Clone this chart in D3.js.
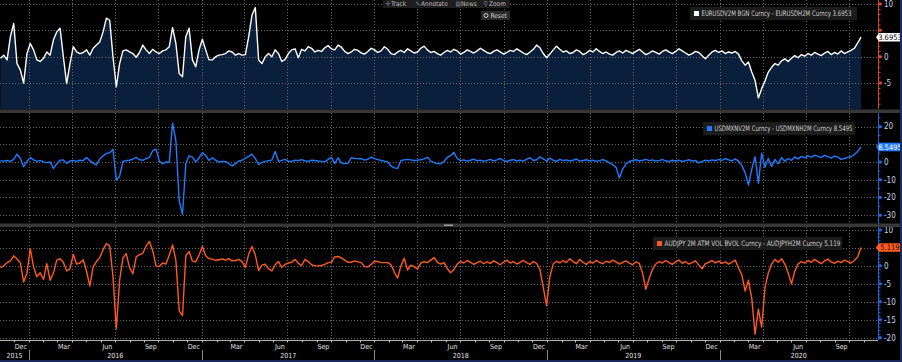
<!DOCTYPE html>
<html>
<head>
<meta charset="utf-8">
<script src="https://cdn.jsdelivr.net/npm/d3@7"></script>
<style>
    html, body { margin: 0; padding: 0; background: #000; }
    svg { display: block; font-family: "Liberation Sans Narrow", "DejaVu Sans Condensed", "Roboto Condensed", sans-serif; }
</style>
</head>
<body>
<svg id="chart" width="902" height="362"></svg>
<script>
// weekly observations, first one on 2 Nov 2015
const startDate = new Date(2015, 10, 2);

const eurusdValues = [
    -0.3, 0.3, -0.6, 3.8, 6.3, -1.3, -2.5, -5.0, 0.6, 2.5,
    1.3, -0.6, -0.9, -0.3, 0.9, 0.3, 3.2, 4.7, 5.4, 0.0,
    -5.1, -1.3, 1.9, 0.9, 0.6, 0.8, 1.3, 0.3, 1.6, 2.2,
    2.8, 4.7, 7.3, 6.9, 0.0, -5.7, -1.3, 1.1, 1.3, 0.9,
    0.6, -0.1, 0.8, 2.2, 1.3, 0.6, 1.4, 0.9, 0.6, 1.1,
    1.3, 1.9, 5.5, 2.5, -3.2, -3.8, 3.8, 5.4, -0.6, -1.9,
    1.3, 3.3, 1.3, -0.6, -0.6, 0.0, 0.3, 0.4, 0.6, 1.1,
    0.9, 0.3, 0.6, 0.3, 0.4, 3.8, 7.9, 9.3, -0.6, -1.3,
    0.0, 0.6, 0.0, 1.3, 0.6, -0.9, -0.5, 0.6, 1.3, 1.5,
    -0.2, 1.4, 1.1, 1.9, 1.6, 0.9, 1.2, 1.0, 1.7, 2.1,
    1.5, 1.3, 2.2, 1.8, 1.0, 0.6, 0.9, 1.4, 1.2, 0.7,
    0.5, 1.0, 1.6, 1.3, 0.8, 1.1, 1.9, 1.4, 0.6, 0.4,
    0.9, 1.2, 0.8, 1.5, 1.1, 0.7, 0.9, 1.6, 2.0, 1.3,
    0.8, 1.0, 0.6, 0.3, 0.8, 1.2, 0.9, 1.4, 1.1, 0.5,
    0.8, 1.3, 1.0, 0.7, 1.1, 1.6, 1.2, 0.8, 0.6, 1.0,
    1.3, 0.9, 0.5, 0.8, 1.2, 1.0, 1.5, 1.1, 0.7, 0.4,
    0.9, 1.4, 2.2, 1.7, 0.6, -0.2, 0.5, 1.3, 2.0, 1.4,
    0.9, 1.1, 0.6, 0.8, 1.3, 1.0, 0.4, 0.7, 1.2, 0.9,
    1.5, 1.0, 0.6, 0.9, 0.5, 0.3, 0.8, 1.1, 0.7, 1.2,
    0.9, 0.6, 1.0, 1.4, 0.9, 0.4, 0.7, 1.1, 0.8, 0.5,
    1.0, 1.3, 0.9, 0.6, 1.0, 1.5, 1.1, 0.7, 0.3, 0.6,
    1.0, 0.8, 0.2, -0.4, 0.3, 0.9, 1.2, 0.8, 1.1, 0.6,
    0.9, 0.7, 1.0, 0.5, -0.8, -1.6, -1.0, -2.9, -4.5, -7.8,
    -6.0, -4.6, -2.9, -2.0, -1.3, -1.6, -0.8, -0.4, -0.9, -0.3,
    0.2, -0.2, 0.4, 0.1, 0.6, 0.3, 0.8, 0.5, 0.2, 0.7,
    1.0, 0.4, 0.8, 0.5, 1.1, 0.6, 0.9, 1.2, 1.6, 2.6,
    3.7
];

const usdmxnValues = [
    0.7, 0.5, 0.9, 0.4, 1.5, 4.5, 2.0, -2.6, 0.5, 2.5,
    1.2, 0.4, 0.9, 0.1, -0.3, 0.0, -3.6, -1.0, 1.0, 1.2,
    -0.8, 0.6, 0.9, 0.4, 1.0, 0.8, 2.6, 0.8, -0.6, -1.6,
    1.7, 3.5, 4.8, 5.3, 7.2, -10.2, -8.0, 0.3, 0.9, 1.0,
    1.6, 2.7, 1.3, 1.0, 1.9, 2.6, 6.4, 7.3, 0.6, -1.0,
    0.0, -0.2, 22.0, 12.0, -22.0, -29.5, -1.0, 3.5, 2.8, 0.1,
    2.3, 5.3, 3.7, 0.9, 2.4, 1.1, 0.0, 0.4, 0.2, -0.8,
    -2.2, -0.9, 0.6, 1.0, 2.2, 3.2, 4.5, 1.9, -1.4, -0.2,
    0.4, 0.8, 1.1, 6.0, 0.4, 0.9, 1.5, 0.4, 0.4, 1.0,
    0.8, 1.4, 0.6, 0.4, 1.0, 0.9, 0.6, 0.4, 0.1, 1.5,
    2.6, -0.9, 2.4, -0.5, -0.9, -0.7, 2.5, 2.0, 1.9, 1.9,
    1.1, 1.6, 2.7, 1.9, 1.4, 0.9, 0.5, 0.0, -2.2, -3.3,
    -3.6, 0.9, 1.2, 1.5, 1.2, 0.9, 1.1, 1.3, 1.8, 2.7,
    0.5, -0.3, -0.9, -1.0, 0.3, 2.6, 3.6,
    5.5, 2.0, 0.8, 1.2, 0.5, 1.0, 1.6, 0.7, 1.1, 0.4,
    0.9, 1.5, 0.6, 1.2, 2.0, 0.8, 0.3, 1.0, 1.4, 0.6,
    1.1, 0.5, 1.6, 2.4, 0.9, 1.3, 3.0, 1.8, 0.6, 2.2,
    1.0, 0.4, 1.5, 0.8, 1.2, 0.6, 1.0, 1.7, 0.5, 0.9,
    1.3, 0.7, 1.1, 0.4, 0.8, 1.4, 0.6, -0.5, -1.5, -3.0,
    -9.0, -4.0, -1.0, 0.3, 0.9, 1.3, 0.6, 1.0, 1.5, 0.8,
    1.2, 0.5, 0.9, 1.4, 0.7, 0.2, 1.0, 0.6, 1.1, 0.3,
    0.8, 1.3, 0.5, 0.9, -0.5, 0.4, 1.0, 0.6, 1.2, 0.7,
    1.5, 0.9, 2.0, 1.2, 0.6, 1.8, 0.5, -2.0, -6.0, -13.0,
    -4.0, 3.0, -12.0, 5.0, -3.0, 2.0, -2.5, 1.5, -1.0, 2.5,
    0.5, 2.0, 1.0, 2.8, 1.8, 3.2, 2.4, 3.5, 2.8, 3.9,
    3.2, 2.6, 3.8, 3.0, 2.2, 3.4, 2.8, 1.5, 2.0, 2.6,
    3.0, 4.2, 6.0, 8.5
];

const audjpyValues = [
    -0.5, 0.0, 0.9, 1.4, 2.8, 1.9, 0.9, -4.5, -2.0, 4.8,
    -0.3, -3.0, -1.9, -3.8, 0.6, -4.0, -2.0, 1.6, 2.0, 1.0,
    -1.4, -0.8, 3.2, 0.5, 0.8, 1.7, -1.5, -5.6, -0.3, 1.2,
    2.3, 4.5, 6.2, 5.6, -3.0, -17.5, -4.0, 2.2, 3.4, -0.5,
    -2.2, 2.5, 3.1, 3.5, 5.5, 6.8, 4.2, 0.0, -0.2, 0.8,
    0.5, 3.0, 5.8, 1.5, -12.5, -13.8, 2.9, 4.0, 1.3, 1.1,
    3.0, 5.4, 2.8, 2.0, 1.9, 1.5, 1.7, 1.9, 1.6, 2.0,
    1.4, 1.5, 1.8, 1.2, -0.4, 3.3, 5.4, 3.0, -1.3, 0.2,
    0.5, -0.8, -1.4, 0.3, 1.2, -0.4, 0.4, 0.8, 1.0, 1.8,
    0.7, 0.1, 1.8, 1.2, 0.3, 0.0, 0.0, 0.1, 0.4, 0.9,
    1.0, 2.5, 2.6, 2.2, 1.6, 1.0, 1.0, 1.4, 1.1, 0.9,
    -0.2, -0.3, 0.4, 1.3, 1.2, 0.9, 0.9, 0.9, 0.3, -1.8,
    -3.4, 0.0, 2.1, -1.2, 0.2, -0.2, -0.9, 0.8, 1.2, 0.9,
    1.6, 2.3, 1.0, 0.5, 0.9, -0.8, -1.9,
    -1.0, 0.5, 1.2, 0.8, 1.5, 1.0, 0.4, 0.9, 1.3, 0.6,
    1.1, 0.7, 1.4, 0.9, 0.3, 1.0, 1.6, 0.8, 1.2, 0.5,
    1.0, 1.5, 0.9, 0.4, 1.2, 0.7, -1.0, -6.0, -11.0, -3.0,
    0.5, 1.3, 0.8, 1.5, 0.9, 2.0, 1.2, 0.6, 1.8, 1.0,
    0.4, 1.2, 0.8, 1.5, 1.0, 0.6, 1.3, 0.9, 1.6, 1.1,
    0.5, 1.0, 1.4, 0.8, 0.3, 1.1, 0.7, -2.0, -6.5, -3.5,
    -1.0, 0.5, 1.2, 0.8, 1.5, 0.9, 0.4, 1.1, 1.6, 0.7,
    1.2, 0.5, 0.9, 1.4, 0.2, -0.8, 0.6, 1.0, 1.5, 0.8,
    1.3, 0.7, 1.1, 0.5, 1.0, 1.6, -0.5, -2.5, -7.0, -4.0,
    -9.0, -19.0, -12.0, -17.0, -6.0, -2.0, 0.5, 1.8, 1.0, 2.0,
    0.5, -2.0, -5.0, -1.5, 0.5, 1.2, 0.8, 1.5, 1.0, 1.8,
    1.2, 0.6, 1.4, 1.9, 1.1, 0.7, 1.3, 0.9, 1.6, 1.2,
    0.8, 1.5, 2.5, 5.1
];

const eurusdTicks = [10, 5, 0, -5];
const usdmxnTicks = [20, 10, 0, -10, -20, -30];
const audjpyTicks = [10, 5, 0, -5, -10, -15, -20];

const legendNames = [
    "EURUSDV2M BGN Curncy - EURUSDH2M Curncy 3.6953",
    "USDMXNV2M Curncy - USDMXNH2M Curncy 8.5495",
    "AUDJPY 2M ATM VOL BVOL Curncy - AUDJPYH2M Curncy 5.119"
];
const lastLabels = ["3.6953", "8.5495", "5.119"];
const monthNames = ["Dec", "Mar", "Jun", "Sep"];
const toolbarItems = ["Track", "Annotate", "News", "Zoom"];

const width = 902;
const height = 362;
const plotRight = 878;
const gridColor = "#6a6a6a";
const labelColor = "#c9d3e6";

const svg = d3.select("#chart");
svg.append("rect").attr("width", width).attr("height", height).attr("fill", "#000");

const x = d3.scaleTime()
    .domain([new Date(2015, 10, 1), new Date(2020, 11, 1)])
    .range([0, plotRight]);

function toSeries(values) {
    return values.map((v, i) => ({date: d3.timeWeek.offset(startDate, i), value: v}));
}

const panels = [
    {values: eurusdValues, ticks: eurusdTicks, minorStep: 1, domain: [-9.9, 10.74], top: 0, bottom: 109,
     line: "#ffffff", axis: "#d9481f", area: "#0a1f3c",
     legend: {x: 690, y: 7, w: 167, h: 13, tl: 150}, tag: {fill: "#ffffff", text: "#000"}},
    {values: usdmxnValues, ticks: usdmxnTicks, minorStep: 5, domain: [-35.0, 27.7], top: 113, bottom: 224,
     line: "#1f7bff", axis: "#1e66dc", area: null,
     legend: {x: 703, y: 122, w: 152, h: 13, tl: 138}, tag: {fill: "#1f7bff", text: "#ffffff"}},
    {values: audjpyValues, ticks: audjpyTicks, minorStep: 1, domain: [-20.6, 10.8], top: 227, bottom: 340,
     line: "#ff5b1f", axis: "#1e66dc", area: null,
     legend: {x: 653, y: 237, w: 189, h: 13, tl: 176}, tag: {fill: "#ff5b1f", text: "#1a0a00"}}
];

const quarterStarts = d3.timeMonth.every(3).range(new Date(2016, 0, 1), x.domain()[1]);

panels.forEach((p, idx) => {
    const y = d3.scaleLinear().domain(p.domain).range([p.bottom, p.top]);
    const data = toSeries(p.values);
    const g = svg.append("g");
    const ty = y(+lastLabels[idx]);

    if (p.area) {
        const area = d3.area()
            .x(d => x(d.date))
            .y0(p.bottom)
            .y1(d => y(d.value));
        g.append("path").datum(data).attr("d", area).attr("fill", p.area);
    }

    // dotted grid
    g.selectAll(".hgrid")
        .data(p.ticks)
        .join("line")
        .attr("x1", 0).attr("x2", plotRight)
        .attr("y1", d => Math.round(y(d)) + 0.5).attr("y2", d => Math.round(y(d)) + 0.5)
        .attr("stroke", gridColor).attr("stroke-dasharray", "1,2");

    g.selectAll(".vgrid")
        .data(quarterStarts)
        .join("line")
        .attr("x1", d => Math.round(x(d)) + 0.5).attr("x2", d => Math.round(x(d)) + 0.5)
        .attr("y1", p.top).attr("y2", p.bottom)
        .attr("stroke", gridColor).attr("stroke-dasharray", "1,2");

    const line = d3.line()
        .x(d => x(d.date))
        .y(d => y(d.value));
    g.append("path").datum(data)
        .attr("d", line)
        .attr("fill", "none")
        .attr("stroke", p.line)
        .attr("stroke-width", 1.4)
        .attr("stroke-linejoin", "round");

    // right axis
    g.append("line")
        .attr("x1", plotRight + 0.5).attr("x2", plotRight + 0.5)
        .attr("y1", p.top).attr("y2", p.bottom)
        .attr("stroke", p.axis).attr("stroke-width", 1);

    const minor = d3.range(Math.ceil(p.domain[0] / p.minorStep) * p.minorStep, p.domain[1], p.minorStep);
    g.selectAll(".minor")
        .data(minor)
        .join("line")
        .attr("x1", plotRight).attr("x2", plotRight + 2.5)
        .attr("y1", d => y(d)).attr("y2", d => y(d))
        .attr("stroke", p.axis);

    g.selectAll(".major")
        .data(p.ticks)
        .join("path")
        .attr("d", d => `M${plotRight},${y(d) - 1.5}h3l1.5,1.5l-1.5,1.5h-3z`)
        .attr("fill", p.axis);

    // labels hidden behind the last-value tag are not drawn
    g.selectAll(".tlabel")
        .data(p.ticks.filter(d => Math.abs(y(d) - ty) > 8))
        .join("text")
        .attr("x", plotRight + 6)
        .attr("y", d => y(d))
        .attr("dy", "0.35em")
        .attr("font-size", 8)
        .attr("fill", labelColor)
        .text(d => d);

    // legend box
    const lg = g.append("g");
    lg.append("rect")
        .attr("x", p.legend.x).attr("y", p.legend.y)
        .attr("width", p.legend.w).attr("height", p.legend.h)
        .attr("fill", "#1c1c1c");
    lg.append("rect")
        .attr("x", p.legend.x + 4).attr("y", p.legend.y + 4)
        .attr("width", 5).attr("height", 5)
        .attr("fill", p.line);
    lg.append("text")
        .attr("x", p.legend.x + 11.5)
        .attr("y", p.legend.y + p.legend.h / 2)
        .attr("dy", "0.35em")
        .attr("font-size", 7.5)
        .attr("fill", "#cfcfcf")
        .attr("textLength", p.legend.tl)
        .attr("lengthAdjust", "spacingAndGlyphs")
        .text(legendNames[idx]);

    // last value tag
    g.append("path")
        .attr("d", `M${plotRight - 2},${ty}l3,-4.25h21.5v8.5h-21.5z`)
        .attr("fill", p.tag.fill);
    g.append("text")
        .attr("x", plotRight + 12)
        .attr("y", ty)
        .attr("dy", "0.35em")
        .attr("text-anchor", "middle")
        .attr("font-size", 7.5)
        .attr("fill", p.tag.text)
        .text(lastLabels[idx]);
});

// panel separators
[109.5, 223.5].forEach(sy => {
    svg.append("rect").attr("x", 0).attr("y", sy).attr("width", 900).attr("height", 3.5).attr("fill", "#383838");
});
svg.append("rect").attr("x", 444).attr("y", 224.5).attr("width", 9).attr("height", 1.5).attr("fill", "#9a9a9a");

// bottom time axis
const axisY = 340;
const ax = svg.append("g");
ax.selectAll(".vgrid")
    .data(quarterStarts)
    .join("line")
    .attr("x1", d => Math.round(x(d)) + 0.5).attr("x2", d => Math.round(x(d)) + 0.5)
    .attr("y1", 329).attr("y2", axisY)
    .attr("stroke", gridColor).attr("stroke-dasharray", "1,2");
ax.append("line")
    .attr("x1", 0).attr("x2", plotRight)
    .attr("y1", axisY + 0.5).attr("y2", axisY + 0.5)
    .attr("stroke", "#b0b0b0");

const months = d3.timeMonth.range(new Date(2015, 11, 1), x.domain()[1]);
ax.selectAll(".mtick")
    .data(months)
    .join("line")
    .attr("x1", d => Math.round(x(d)) + 0.5).attr("x2", d => Math.round(x(d)) + 0.5)
    .attr("y1", axisY).attr("y2", axisY + 2.5)
    .attr("stroke", "#c0c0c0");

const labelledMonths = months.filter(d => monthNames.includes(d3.timeFormat("%b")(d)));
ax.selectAll(".mlabel")
    .data(labelledMonths)
    .join("text")
    .attr("x", d => x(d3.timeDay.offset(d, 14)))
    .attr("y", axisY + 6.5)
    .attr("dy", "0.35em")
    .attr("text-anchor", "middle")
    .attr("font-size", 7)
    .attr("fill", "#e2e2e2")
    .text(d => d3.timeFormat("%b")(d));

const years = d3.timeYear.range(new Date(2015, 0, 1), x.domain()[1]);
ax.selectAll(".ysep")
    .data(years.slice(1))
    .join("line")
    .attr("x1", d => Math.round(x(d)) + 0.5).attr("x2", d => Math.round(x(d)) + 0.5)
    .attr("y1", axisY + 10).attr("y2", height - 1)
    .attr("stroke", "#8a8a8a");
ax.selectAll(".ylabel")
    .data(years)
    .join("text")
    .attr("x", d => {
        const a = Math.max(x(d), 0);
        const b = Math.min(x(d3.timeYear.offset(d, 1)), plotRight);
        return (a + b) / 2;
    })
    .attr("y", axisY + 15.5)
    .attr("dy", "0.35em")
    .attr("text-anchor", "middle")
    .attr("font-size", 7)
    .attr("fill", "#e2e2e2")
    .text(d => d3.timeFormat("%Y")(d));

// window border
svg.append("rect").attr("x", 900).attr("y", 0).attr("width", 2).attr("height", height).attr("fill", "#1b2a5e");
svg.append("rect").attr("x", 0).attr("y", 360).attr("width", width).attr("height", 2).attr("fill", "#1b2a5e");

// toolbar
const tb = svg.append("g").attr("font-size", 6.5).attr("fill", "#bdbdbd");
tb.append("rect").attr("x", 383).attr("y", 0).attr("width", 127).attr("height", 8).attr("fill", "#1e1e1e");
const toolX = [391, 421, 461, 489];
const toolIcons = ["✛", "✎", "▤", "⚲"];
toolbarItems.forEach((t, i) => {
    tb.append("text").attr("x", toolX[i] - 5.5).attr("y", 5.8).attr("fill", "#8c8c8c").text(toolIcons[i]);
    tb.append("text").attr("x", toolX[i]).attr("y", 5.8).text(t);
});
tb.append("rect").attr("x", 481).attr("y", 11).attr("width", 29).attr("height", 9).attr("fill", "#2b2b2b");
tb.append("circle").attr("cx", 486).attr("cy", 15.5).attr("r", 2).attr("fill", "none").attr("stroke", "#d0d0d0").attr("stroke-width", 1);
tb.append("text").attr("x", 490.5).attr("y", 17.8).attr("fill", "#d0d0d0").text("Reset");
</script>
</body>
</html>
